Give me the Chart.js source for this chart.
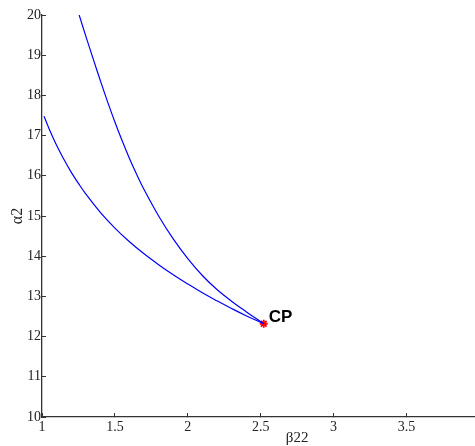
<!DOCTYPE html>
<html>
<head>
<meta charset="utf-8">
<script src="https://cdn.jsdelivr.net/npm/chart.js@4.4.1/dist/chart.umd.min.js"></script>
<style>
  html, body { margin: 0; padding: 0; background: #fff; overflow: hidden; }
  #wrap { width: 475px; height: 446px; overflow: hidden; }
</style>
</head>
<body>
<div id="wrap"><canvas id="cpChart" width="567" height="446"></canvas></div>
<script>
// upper branch (beta22, alpha2)
const upperX = [1.255, 1.30, 1.35, 1.40, 1.45, 1.50, 1.55, 1.60, 1.65, 1.70, 1.80, 1.90, 2.00, 2.10, 2.20, 2.30, 2.40, 2.521];
const upperY = [20.00, 19.48, 18.92, 18.37, 17.84, 17.34, 16.87, 16.43, 16.03, 15.66, 15.00, 14.43, 13.94, 13.52, 13.17, 12.88, 12.62, 12.32];
// lower branch
const lowerX = [1.014, 1.05, 1.10, 1.15, 1.20, 1.25, 1.30, 1.40, 1.50, 1.60, 1.70, 1.80, 1.90, 2.00, 2.10, 2.20, 2.30, 2.40, 2.521];
const lowerY = [17.48, 17.16, 16.76, 16.41, 16.09, 15.81, 15.55, 15.09, 14.70, 14.36, 14.06, 13.79, 13.54, 13.31, 13.09, 12.89, 12.70, 12.52, 12.32];
// the CP point
const cpX = [2.521];
const cpY = [12.32];
const cpLabel = 'CP';

const toPoints = (xs, ys) => xs.map((x, i) => ({ x: x, y: ys[i] }));

const cpText = {
    id: 'cpText',
    afterDatasetsDraw(chart) {
        const c = chart.ctx;
        const px = chart.scales.x.getPixelForValue(cpX[0]);
        const py = chart.scales.y.getPixelForValue(cpY[0]);
        c.save();
        c.font = 'bold 17px "Liberation Sans", Arial, sans-serif';
        c.fillStyle = '#000';
        c.textAlign = 'left';
        c.textBaseline = 'middle';
        c.fillText(cpLabel, px + 5, py - 6);
        c.restore();
    }
};

const serif = '"Liberation Serif", "Times New Roman", serif';
const tickFont = { family: serif, size: 14 };

new Chart(document.getElementById('cpChart').getContext('2d'), {
    type: 'line',
    data: {
        datasets: [
            {
                data: toPoints(upperX, upperY),
                borderColor: '#0000ff',
                borderWidth: 1.2,
                pointRadius: 0,
                tension: 0.4
            },
            {
                data: toPoints(lowerX, lowerY),
                borderColor: '#0000ff',
                borderWidth: 1.2,
                pointRadius: 0,
                tension: 0.4
            },
            {
                data: toPoints(cpX, cpY),
                showLine: false,
                pointStyle: 'star',
                pointRadius: 4,
                borderColor: '#ff0000',
                backgroundColor: '#ff0000',
                pointBorderWidth: 1.8
            }
        ]
    },
    plugins: [cpText],
    options: {
        responsive: false,
        animation: false,
        layout: { padding: { top: 15, right: 12, left: 0, bottom: 0 } },
        plugins: { legend: { display: false }, tooltip: { enabled: false } },
        scales: {
            x: {
                type: 'linear',
                min: 1,
                max: 4.5,
                afterFit: (s) => { s.height = 29; },
                ticks: {
                    stepSize: 0.5, color: '#222', font: tickFont, padding: 6, maxRotation: 0,
                    callback: (v) => String(+v.toFixed(1))
                },
                grid: { drawOnChartArea: false, tickLength: -4, color: '#333' },
                border: { color: '#333', width: 1.3 },
                title: {
                    display: true,
                    text: 'β22',
                    color: '#222',
                    font: { family: serif, size: 15 },
                    padding: { top: 0, bottom: -1 }
                }
            },
            y: {
                min: 10,
                max: 20,
                afterFit: (s) => { s.width = 42; },
                ticks: { stepSize: 1, color: '#222', font: tickFont, padding: 5 },
                grid: { drawOnChartArea: false, tickLength: -4, color: '#333' },
                border: { color: '#333', width: 1.3 },
                title: {
                    display: true,
                    text: 'α2',
                    color: '#222',
                    font: { family: serif, size: 16 },
                    padding: { top: 8, bottom: 0 }
                }
            }
        }
    }
});
</script>
</body>
</html>
